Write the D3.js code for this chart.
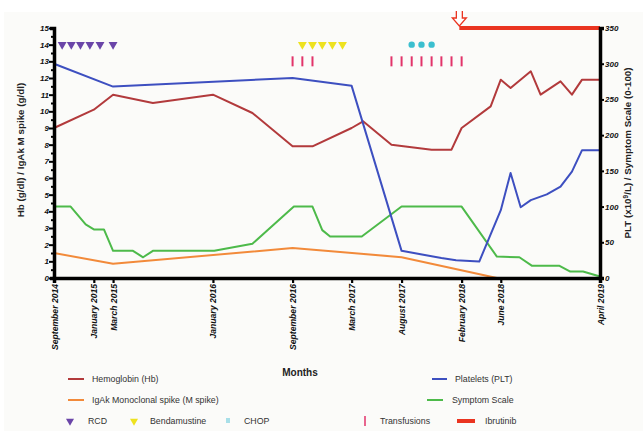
<!DOCTYPE html>
<html><head><meta charset="utf-8">
<script src="https://cdn.jsdelivr.net/npm/d3@7"></script>
<style>
html,body{margin:0;padding:0;background:#fff;}
text{font-family:"Liberation Sans",Arial,sans-serif;}
</style></head>
<body><svg id="c" width="643" height="431"></svg>
<script>
// ---- data ----
const hbDates = ["2014-09-01","2015-01-01","2015-03-01","2015-07-01","2016-01-01","2016-05-01","2016-09-01","2016-11-01","2017-03-01","2017-04-05","2017-07-01","2017-11-01","2018-01-01","2018-02-01","2018-05-01","2018-06-01","2018-07-01","2018-09-01","2018-10-01","2018-12-01","2019-01-05","2019-02-05","2019-04-01"];
const hbValues = [9.0,10.1,11.0,10.5,11.0,9.9,7.9,7.9,9.0,9.4,8.0,7.7,7.7,9.0,10.3,11.9,11.4,12.4,11.0,11.8,11.0,11.9,11.9];

const mDates = ["2014-09-01","2015-03-01","2016-09-01","2017-08-01","2018-05-20","2019-04-01"];
const mValues = [1.5,0.85,1.8,1.25,0.0,0.0];

const pltDates = ["2014-09-01","2015-03-01","2016-09-01","2017-03-01","2017-08-01","2017-12-01","2018-01-15","2018-03-27","2018-06-01","2018-07-01","2018-08-01","2018-09-01","2018-10-20","2018-12-01","2019-01-05","2019-02-05","2019-04-01"];
const pltValues = [300,268,280,269,38,28,25,23,95,147,99,109,117,128,149,179,179];

const symDates = ["2014-09-01","2014-10-22","2014-12-07","2015-01-01","2015-02-01","2015-03-01","2015-05-01","2015-06-01","2015-07-01","2016-01-05","2016-05-01","2016-09-05","2016-11-01","2016-12-01","2016-12-25","2017-04-01","2017-08-01","2018-02-01","2018-05-20","2018-07-28","2018-09-05","2018-11-28","2018-12-31","2019-02-08","2019-04-01"];
const symValues = [100,100,75,68,68,38,38,29,38,38,48,100,100,67,58,58,100,100,30,29,17,17,9,9,2];

const rcdDates = ["2014-09-26","2014-10-24","2014-11-21","2014-12-20","2015-01-20","2015-03-01"];
const bendaDates = ["2016-10-01","2016-11-01","2016-12-01","2017-01-01","2017-02-01"];
const chopDates = ["2017-09-01","2017-10-01","2017-11-01"];
const transfusionDates = ["2016-09-01","2016-10-01","2016-11-01","2017-07-01","2017-08-01","2017-09-01","2017-10-01","2017-11-01","2017-12-01","2018-01-01","2018-02-01"];
const ibrutinibDates = ["2018-01-25","2019-04-01"];

const xTickDates = ["2014-09-01","2015-01-01","2015-03-01","2016-01-01","2016-09-01","2017-03-01","2017-08-01","2018-02-01","2018-06-01","2019-04-01"];
const xTickLabels = ["September 2014","January 2015","March 2015","January 2016","September 2016","March 2017","August 2017","February 2018","June 2018","April 2019"];
const leftTicks = d3.range(0,15.01,0.5);
const rightTicks = [0,50,100,150,200,250,300,350];

// ---- setup ----
const P = d3.timeParse("%Y-%m-%d");
const svg = d3.select("#c");
svg.append("rect").attr("x",4).attr("y",12).attr("width",639).attr("height",419).attr("fill","#fbfbf9");

const x = d3.scaleTime().domain([P("2014-09-01"),P("2019-04-01")]).range([54,600]);
const yL = d3.scaleLinear().domain([0,15]).range([278,28]);
const yR = d3.scaleLinear().domain([0,350]).range([278,28]);

const col = {hb:"#b23a3c", m:"#f28a3a", plt:"#3d4fc0", sym:"#4dba4a", rcd:"#6a45a8", benda:"#eee21f", chop:"#3bbfcf", tr:"#e2336a", ib:"#ea3420"};

// ---- lines ----
function series(dates, vals, y, color){
  const pts = dates.map((d,i)=>[x(P(d)), y(vals[i])]);
  svg.append("path").attr("d", d3.line()(pts)).attr("fill","none")
    .attr("stroke",color).attr("stroke-width",2).attr("stroke-linejoin","round");
}
series(symDates, symValues, yR, col.sym);
series(mDates, mValues, yL, col.m);
series(hbDates, hbValues, yL, col.hb);
series(pltDates, pltValues, yR, col.plt);

// ---- markers ----
const tri = d3.symbol().type(d3.symbolTriangle).size(34);
svg.selectAll(".rcd").data(rcdDates).join("path").attr("d",tri)
  .attr("transform",d=>`translate(${x(P(d))},${yL(14)}) rotate(180)`).attr("fill",col.rcd);
svg.selectAll(".benda").data(bendaDates).join("path").attr("d",tri)
  .attr("transform",d=>`translate(${x(P(d))},${yL(14)}) rotate(180)`).attr("fill",col.benda);
svg.selectAll(".chop").data(chopDates).join("circle")
  .attr("cx",d=>x(P(d))).attr("cy",yL(14)).attr("r",3.2).attr("fill",col.chop);
svg.selectAll(".tr").data(transfusionDates).join("line")
  .attr("x1",d=>x(P(d))).attr("x2",d=>x(P(d))).attr("y1",yL(13)-5).attr("y2",yL(13)+5)
  .attr("stroke",col.tr).attr("stroke-width",2);

// ibrutinib bar + arrow
svg.append("line").attr("x1",x(P(ibrutinibDates[0]))).attr("x2",x(P(ibrutinibDates[1])))
  .attr("y1",yR(350)).attr("y2",yR(350)).attr("stroke",col.ib).attr("stroke-width",4);
{
  const ax = x(P(ibrutinibDates[0]));
  svg.append("path").attr("d",`M${ax-3},11 L${ax-3},18 L${ax-7},18 L${ax},26 L${ax+7},18 L${ax+3},18 L${ax+3},11`)
    .attr("fill","#fff").attr("stroke",col.ib).attr("stroke-width",1.3);
}

// ---- axes ----
const fontAx = "bold italic 8px 'Liberation Sans', Arial, sans-serif";
const fontX = "bold italic 8.6px 'Liberation Sans', Arial, sans-serif";
const gL = svg.append("g").attr("transform","translate(54,0)")
  .call(d3.axisLeft(yL).tickValues(leftTicks).tickSize(4).tickFormat(d=>Number.isInteger(d)?d:""));
gL.selectAll(".tick line").attr("stroke","#000").attr("stroke-width",2).attr("x2",d=>Number.isInteger(d)?-5:-3);
gL.selectAll(".tick text").style("font",fontAx).attr("x",-5).attr("fill","#111");
gL.select(".domain").attr("stroke","#000").attr("stroke-width",3.5);

const gR = svg.append("g").attr("transform","translate(600,0)")
  .call(d3.axisRight(yR).tickValues(rightTicks).tickSize(4));
gR.selectAll(".tick line").attr("stroke","#000").attr("stroke-width",2);
gR.selectAll(".tick text").style("font",fontAx).attr("x",5).attr("fill","#111");
gR.select(".domain").attr("stroke","#000").attr("stroke-width",3.5);

const gX = svg.append("g").attr("transform","translate(0,278)")
  .call(d3.axisBottom(x).tickValues(xTickDates.map(P)).tickSize(5).tickFormat((d,i)=>xTickLabels[i]));
gX.selectAll(".tick line").attr("stroke","#000").attr("stroke-width",2.2);
gX.selectAll(".tick text").style("font",fontX).attr("fill","#111")
  .attr("transform","rotate(-90)").attr("text-anchor","end").attr("x",-6).attr("y",0).attr("dy","0.35em");
gX.select(".domain").attr("stroke","#000").attr("stroke-width",3.5);

// axis titles
svg.append("text").attr("transform","translate(24,150) rotate(-90)").attr("text-anchor","middle")
  .style("font","bold 9.8px 'Liberation Sans', Arial, sans-serif").attr("fill","#222")
  .text("Hb (g/dl)  /  IgAk M spike (g/dl)");
const rt = svg.append("text").attr("transform","translate(631,153) rotate(-90)").attr("text-anchor","middle")
  .style("font","bold 9.8px 'Liberation Sans', Arial, sans-serif").attr("fill","#222");
rt.append("tspan").text("PLT (x10");
rt.append("tspan").attr("dy",-3).style("font-size","6.5px").text("9");
rt.append("tspan").attr("dy",3).text("/L)  /  Symptom Scale (0-100)");
svg.append("text").attr("x",300).attr("y",376).attr("text-anchor","middle")
  .style("font","bold 10px 'Liberation Sans', Arial, sans-serif").attr("fill","#222").text("Months");

// ---- legend ----
const lf = "8.8px 'Liberation Sans', Arial, sans-serif";
const lineLeg = [
  {x1:68,x2:84,y:379,c:col.hb,t:"Hemoglobin (Hb)",tx:92},
  {x1:68,x2:84,y:400,c:col.m,t:"IgAk Monoclonal spike (M spike)",tx:92},
  {x1:432,x2:447,y:379,c:col.plt,t:"Platelets (PLT)",tx:455},
  {x1:427,x2:443,y:400,c:col.sym,t:"Symptom Scale",tx:452}
];
lineLeg.forEach(l=>{
  svg.append("line").attr("x1",l.x1).attr("x2",l.x2).attr("y1",l.y).attr("y2",l.y).attr("stroke",l.c).attr("stroke-width",2);
  svg.append("text").attr("x",l.tx).attr("y",l.y+3).style("font",lf).attr("fill","#333").text(l.t);
});
const ly = 421;
svg.append("path").attr("d",d3.symbol().type(d3.symbolTriangle).size(28)).attr("transform",`translate(70,${ly}) rotate(180)`).attr("fill",col.rcd);
svg.append("text").attr("x",88).attr("y",ly+3).style("font",lf).attr("fill","#333").text("RCD");
svg.append("path").attr("d",d3.symbol().type(d3.symbolTriangle).size(28)).attr("transform",`translate(134,${ly}) rotate(180)`).attr("fill",col.benda);
svg.append("text").attr("x",150).attr("y",ly+3).style("font",lf).attr("fill","#333").text("Bendamustine");
svg.append("rect").attr("x",226).attr("y",ly-3).attr("width",4).attr("height",5).attr("fill","#a8dfe8");
svg.append("text").attr("x",244).attr("y",ly+3).style("font",lf).attr("fill","#333").text("CHOP");
svg.append("line").attr("x1",365).attr("x2",365).attr("y1",ly-5).attr("y2",ly+5).attr("stroke",col.tr).attr("stroke-width",1.5);
svg.append("text").attr("x",380).attr("y",ly+3).style("font",lf).attr("fill","#333").text("Transfusions");
svg.append("line").attr("x1",457).attr("x2",475).attr("y1",ly).attr("y2",ly).attr("stroke",col.ib).attr("stroke-width",4);
svg.append("text").attr("x",485).attr("y",ly+3).style("font",lf).attr("fill","#333").text("Ibrutinib");
</script></body></html>
